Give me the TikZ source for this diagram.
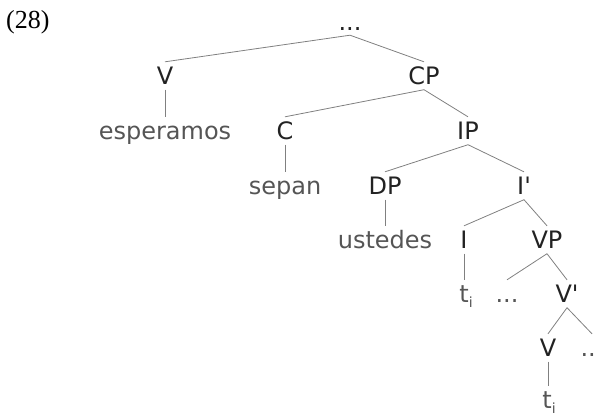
\documentclass[tikz,border=0pt]{standalone}
\usepackage{fontspec}
\setmainfont{DejaVu Sans}[Ligatures=TeXOff]
\newfontfamily\exfont{Liberation Serif}
\definecolor{catcol}{HTML}{222222}
\definecolor{wordcol}{HTML}{555555}
\definecolor{linecol}{HTML}{808080}
\newcommand{\trace}{t\raisebox{-4.5bp}{\fontsize{14bp}{14bp}\selectfont i}}
\begin{document}
\begin{tikzpicture}[x=1bp,y=-1bp,
  lbl/.style={font=\fontsize{24bp}{28bp}\selectfont, inner xsep=1bp, inner ysep=5bp,
              text height=17.5bp, text depth=0pt, anchor=base},
  cat/.style={lbl, text=catcol},
  word/.style={lbl, text=wordcol},
  branch/.style={draw=linecol, line width=0.8bp}]
\useasboundingbox (0,0) rectangle (598,413);
\clip (0,0) rectangle (598,413);

% example number
\node[anchor=base west, inner sep=0pt, font=\exfont\fontsize{26bp}{30bp}\selectfont] (num) at (6,28) {(28)};

% tree nodes
\node[cat] (root) at (350,30) {...};
\node[cat] (V1) at (165,84.5) {V};
\node[cat] (CP) at (424,84.5) {CP};
\node[word] (esp) at (165,139.5) {esperamos};
\node[cat] (C) at (285,139.5) {C};
\node[cat] (IP) at (468,139.5) {IP};
\node[word] (sepan) at (285,194.5) {sepan};
\node[cat] (DP) at (385,194.5) {DP};
\node[cat] (Ibar) at (524,194.5) {I'};
\node[word] (ust) at (385,248.5) {ustedes};
\node[cat] (I) at (464,248.5) {I};
\node[cat] (VP) at (547,248.5) {VP};
\node[word] (t1) at (466,302.5) {\trace};
\node[word] (dots1) at (507,302.5) {...};
\node[cat] (Vbar) at (567,302.5) {V'};
\node[cat] (V2) at (548,356.5) {V};
\node[word] (dots2) at (592,356.5) {...};
\node[word] (t2) at (549,408.5) {\trace};

% branches
\draw[branch] (root.south) -- (V1.north);
\draw[branch] (root.south) -- (CP.north);
\draw[branch] (V1.south) -- (esp.north);
\draw[branch] (CP.south) -- (C.north);
\draw[branch] (CP.south) -- (IP.north);
\draw[branch] (C.south) -- (sepan.north);
\draw[branch] (IP.south) -- (DP.north);
\draw[branch] (IP.south) -- (Ibar.north);
\draw[branch] (DP.south) -- (ust.north);
\draw[branch] (Ibar.south) -- (I.north);
\draw[branch] (Ibar.south) -- (VP.north);
\draw[branch] (I.south) -- (I.south |- t1.north);
\draw[branch] (VP.south) -- (dots1.north);
\draw[branch] (VP.south) -- (Vbar.north);
\draw[branch] (Vbar.south) -- (V2.north);
\draw[branch] (Vbar.south) -- (dots2.north);
\draw[branch] (V2.south) -- (V2.south |- t2.north);
\end{tikzpicture}
\end{document}
